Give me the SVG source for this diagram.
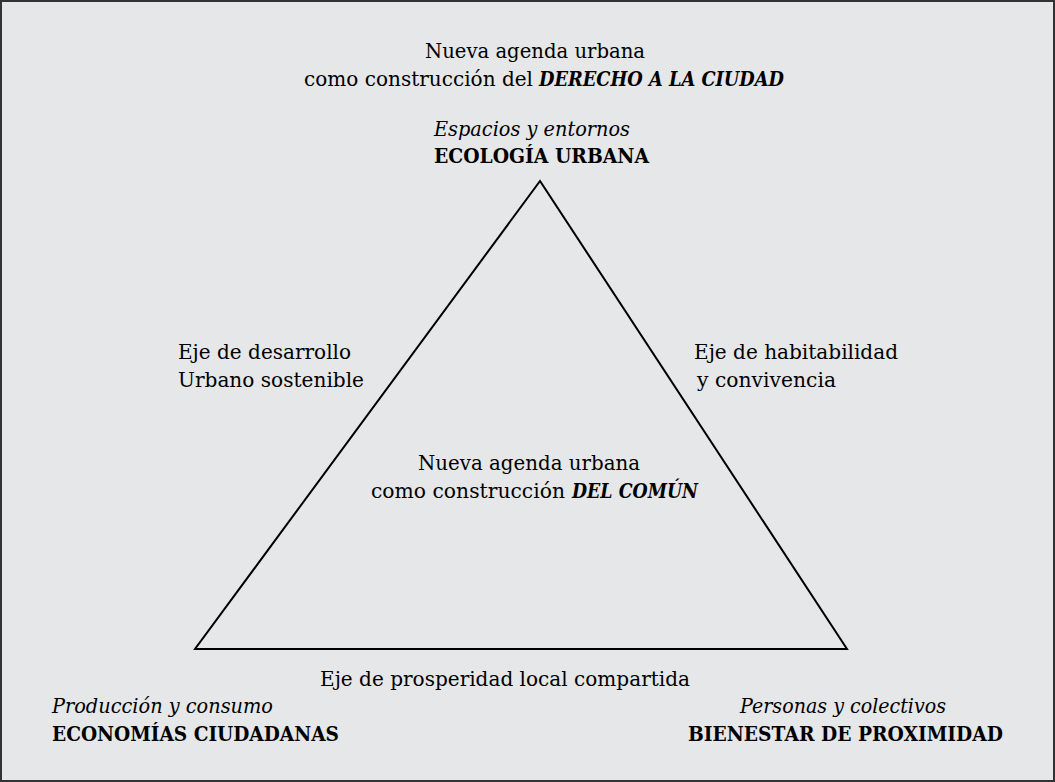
<svg xmlns="http://www.w3.org/2000/svg" width="1055" height="782" viewBox="0 0 1055 782">
<style>
  text { font-family: "DejaVu Serif", "Liberation Serif", serif; font-size: 21px; fill: #000; }
  .b { font-weight: bold; }
  .i { font-style: italic; }
  .bi { font-weight: bold; font-style: italic; }
  .edge { fill: none; stroke: #000; stroke-width: 2; stroke-linejoin: miter; }
</style>
<rect x="1" y="1" width="1053" height="780" fill="#e6e7e8" stroke="#333" stroke-width="2"/>
<g id="title">
  <text x="425" y="58" textLength="220" lengthAdjust="spacingAndGlyphs">Nueva agenda urbana</text>
  <text x="304" y="86" textLength="229" lengthAdjust="spacingAndGlyphs">como construcción del</text>
  <text class="bi" x="539" y="86" textLength="245" lengthAdjust="spacingAndGlyphs">DERECHO A LA CIUDAD</text>
</g>
<g id="connectors">
  <polygon class="edge" points="540,181 195,649 847,649"/>
</g>
<g id="node-ecologia">
  <text class="i" x="434" y="136" textLength="196" lengthAdjust="spacingAndGlyphs">Espacios y entornos</text>
  <text class="b" x="434" y="163" textLength="215" lengthAdjust="spacingAndGlyphs">ECOLOGÍA URBANA</text>
</g>
<g id="node-economias">
  <text class="i" x="52" y="713" textLength="221" lengthAdjust="spacingAndGlyphs">Producción y consumo</text>
  <text class="b" x="52" y="741" textLength="287" lengthAdjust="spacingAndGlyphs">ECONOMÍAS CIUDADANAS</text>
</g>
<g id="node-bienestar">
  <text class="i" x="740" y="713" textLength="206" lengthAdjust="spacingAndGlyphs">Personas y colectivos</text>
  <text class="b" x="688" y="741" textLength="315" lengthAdjust="spacingAndGlyphs">BIENESTAR DE PROXIMIDAD</text>
</g>
<g id="label-left">
  <text x="178" y="359" textLength="173" lengthAdjust="spacingAndGlyphs">Eje de desarrollo</text>
  <text x="178" y="387" textLength="186" lengthAdjust="spacingAndGlyphs">Urbano sostenible</text>
</g>
<g id="label-right">
  <text x="694" y="359" textLength="204" lengthAdjust="spacingAndGlyphs">Eje de habitabilidad</text>
  <text x="697" y="387" textLength="139" lengthAdjust="spacingAndGlyphs">y convivencia</text>
</g>
<g id="label-bottom">
  <text x="320" y="686" textLength="370" lengthAdjust="spacingAndGlyphs">Eje de prosperidad local compartida</text>
</g>
<g id="center">
  <text x="418" y="470" textLength="222" lengthAdjust="spacingAndGlyphs">Nueva agenda urbana</text>
  <text x="371" y="498" textLength="194" lengthAdjust="spacingAndGlyphs">como construcción</text>
  <text class="bi" x="572" y="498" textLength="126" lengthAdjust="spacingAndGlyphs">DEL COMÚN</text>
</g>
</svg>
